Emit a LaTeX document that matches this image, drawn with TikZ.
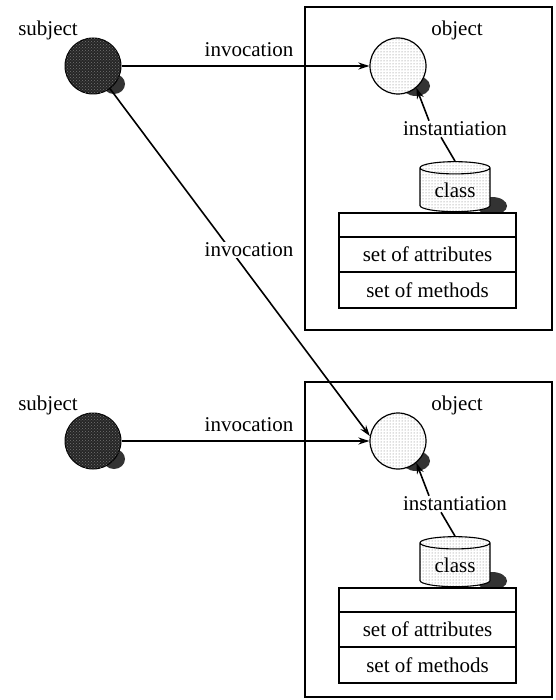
\documentclass[tikz,border=0pt]{standalone}
\usepackage{fontspec}
\setmainfont{Liberation Serif}
\usetikzlibrary{shapes.geometric, arrows.meta, positioning, patterns}

\begin{document}
\begin{tikzpicture}[x=1pt, y=-1pt,
  every node/.style={font=\fontsize{21}{25}\selectfont},
  subj/.style={circle, draw, line width=1pt, fill=black!85,
               postaction={pattern=crosshatch dots, pattern color=black!55},
               minimum size=56pt, inner sep=0pt},
  obj/.style={circle, draw, line width=1.2pt, preaction={fill=white},
              pattern=dots, pattern color=black!55,
              minimum size=56pt, inner sep=0pt},
  can/.style={cylinder, shape border rotate=90, aspect=0.3, draw,
              line width=1.1pt, preaction={fill=white}, pattern=dots,
              pattern color=black!55, minimum width=70pt,
              minimum height=50pt, inner sep=0pt},
  row/.style={rectangle, draw, line width=1.1pt, fill=white,
              minimum width=177pt, outer sep=0pt, inner sep=0pt},
  panel/.style={draw, line width=1.1pt},
  shadow/.style={fill=black!80},
  call/.style={-{Stealth[length=11pt, width=7pt]}, line width=1.6pt},
  lbl/.style={inner sep=1pt, fill=white}
]
  \useasboundingbox (0,0) rectangle (555,700);

  % upper panel
  \draw[panel] (305,7) rectangle (552,330);
  \fill[shadow] (114,84) ellipse [x radius=11, y radius=10];
  \fill[shadow] (416,86) ellipse [x radius=14, y radius=10];
  \fill[shadow] (492,206) ellipse [x radius=15, y radius=9];

  \node (subjlabA) at (48,30) {subject};
  \node[subj] (subjA) at (93,66) {};
  \node (objlabA) at (457,30) {object};
  \node[obj] (objA) at (398,66) {};

  \node[row, minimum height=24pt] (headA) at (427.5,225) {};
  \node[row, minimum height=35pt, below=0pt of headA] (attrA) {set of attributes};
  \node[row, minimum height=36pt, below=0pt of attrA] (methA) {set of methods};
  \node[can] (clsA) at (455,190) {class};

  \node[lbl] (instA) at (455,129) {instantiation};
  \draw[line width=1.6pt] (clsA.north) -- ([xshift=-14pt]instA.south);
  \draw[call] ([xshift=-26pt]instA.north) -- (objA.-50);

  \draw[call] (subjA) -- (objA);
  \node[lbl] (callA) at (249,50) {invocation};

  % lower panel
  \draw[panel] (305,382) rectangle (552,697);
  \fill[shadow] (114,459) ellipse [x radius=11, y radius=10];
  \fill[shadow] (416,461) ellipse [x radius=14, y radius=10];
  \fill[shadow] (492,581) ellipse [x radius=15, y radius=9];

  \node (subjlabB) at (48,405) {subject};
  \node[subj] (subjB) at (93,441) {};
  \node (objlabB) at (457,405) {object};
  \node[obj] (objB) at (398,441) {};

  \node[row, minimum height=24pt] (headB) at (427.5,600) {};
  \node[row, minimum height=35pt, below=0pt of headB] (attrB) {set of attributes};
  \node[row, minimum height=36pt, below=0pt of attrB] (methB) {set of methods};
  \node[can] (clsB) at (455,565) {class};

  \node[lbl] (instB) at (455,504) {instantiation};
  \draw[line width=1.6pt] (clsB.north) -- ([xshift=-14pt]instB.south);
  \draw[call] ([xshift=-26pt]instB.north) -- (objB.-50);

  \draw[call] (subjB) -- (objB);
  \node[lbl] (callB) at (249,425) {invocation};

  % cross call
  \draw[call] (subjA) -- (objB.170);
  \node[lbl] (callX) at (249,250) {invocation};
\end{tikzpicture}
\end{document}
